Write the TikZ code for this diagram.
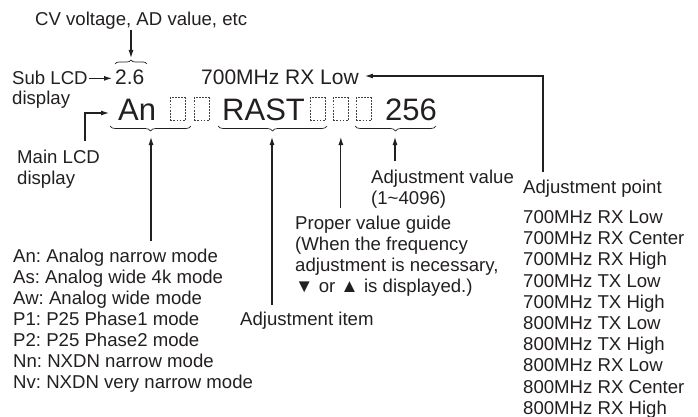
\documentclass[tikz,border=0pt]{standalone}
\usepackage{fontspec}
\setmainfont{Liberation Sans}
\usetikzlibrary{arrows.meta,positioning,decorations.pathreplacing,calc}
\definecolor{inkgray}{RGB}{35,31,32}
\frenchspacing
\tikzset{
  lbl/.style={inner sep=0pt, anchor=base west, text=inkgray,
              font=\fontsize{18.6}{21}\selectfont},
  sublcd/.style={lbl, font=\fontsize{21}{24}\selectfont},
  mainlcd/.style={lbl, font=\fontsize{31}{36}\selectfont},
  blank/.style={draw=inkgray!85, dash pattern=on 1.8pt off 1.3pt, line width=0.7pt,
                minimum width=15pt, minimum height=23pt, inner sep=0pt, anchor=south west},
  ptr/.style={-{Latex[length=8pt,width=5pt]}, line width=1.1pt, draw=inkgray},
  grp/.style={decorate, decoration={brace, amplitude=#1}, line width=0.7pt, draw=inkgray},
  grp/.default=5pt,
}

\begin{document}
\begin{tikzpicture}[x=1pt, y=-1pt]
    \useasboundingbox (0,0) rectangle (698,417);
    % Sub LCD line
    \node[lbl] (cvnote) at (35,26) {CV voltage, AD value, etc};
    \node[lbl] (sublbl) at (12,85) {Sub LCD};
    \node[lbl] (sublbl2) at (12,105) {display};
    \node[sublcd] (subval) at (115,85) {2.6};
    \node[sublcd] (subtxt) at (201,85) {700MHz RX Low};
    % Main LCD line
    \node[mainlcd] (mode) at (118,121) {An};
    \node[mainlcd] (item) at (222,121) {RAST};
    \node[mainlcd] (value) at (385,121) {256};
    \foreach \bx [count=\i] in {170,194,310,333,356}
      \node[blank] (blank\i) at (\bx,121) {};
    \node[lbl] (mainlbl) at (17,163) {Main LCD};
    \node[lbl] (mainlbl2) at (17,184) {display};

    % Braces and their tips
    \draw[grp=4pt] (115,64) -- (147,64);
    \coordinate (cvtip) at (131,58);
    \draw[grp] (191,126) -- (110,126);
    \draw[grp] (327,126) -- (218,126);
    \draw[grp] (436,126) -- (355,126);
    \coordinate (modetip) at (151,137);
    \coordinate (itemtip) at (272,137);
    \coordinate (valuetip) at (395,137);
    \coordinate (guidetip) at (blank4.south |- valuetip);

    % Notes below
    \node[lbl] (valuelbl) at (371,183) {Adjustment value};
    \node[lbl] (valuelbl2) at (371,204) {(1\textasciitilde4096)};
    \foreach \gd [count=\i] in {{Proper value guide},{(When the frequency},
        {adjustment is necessary,},{▼ or ▲ is displayed.)}}
      \node[lbl] (guide\i) at (295,{229.5+21*(\i-1)}) {\gd};
    \node[lbl] (itemlbl) at (240,325.5) {Adjustment item};
    \foreach \md [count=\i] in {An: Analog narrow mode, As: Analog wide 4k mode,
        Aw: Analog wide mode, P1: P25 Phase1 mode, P2: P25 Phase2 mode,
        Nn: NXDN narrow mode, Nv: NXDN very narrow mode}
      \node[lbl] (mode\i) at (13,{262.5+21*(\i-1)}) {\md};
    \node[lbl] (pointlbl) at (523,193.5) {Adjustment point};
    \foreach \pt [count=\i] in {700MHz RX Low, 700MHz RX Center, 700MHz RX High,
        700MHz TX Low, 700MHz TX High, 800MHz TX Low, 800MHz TX High,
        800MHz RX Low, 800MHz RX Center, 800MHz RX High}
      \node[lbl] (point\i) at (523,{223.5+21.2*(\i-1)}) {\pt};

    % Connectors
    \draw[ptr] (cvnote.south -| cvtip) -- (cvtip);
    \draw[ptr] ([xshift=1pt]sublbl.east) -- ([xshift=-3pt]sublbl.east -| subval.west);
    \coordinate (mainbend) at (85,113);
    \draw[ptr] ([yshift=8pt]mainlbl.north -| mainbend) -- (mainbend)
      -- ([xshift=-9pt]mainbend -| mode.west);
    \coordinate (ptcorner) at (543,76);
    \draw[ptr] ([yshift=8pt]pointlbl.north -| ptcorner) -- (ptcorner)
      -- ([xshift=6pt]ptcorner -| subtxt.east);
    \draw[ptr] ([yshift=8pt]mode1.north -| modetip) -- (modetip);
    \draw[ptr] ([yshift=7pt]itemlbl.north -| itemtip) -- (itemtip);
    \draw[ptr] ([yshift=8pt]guide1.north -| guidetip) -- (guidetip);
    \draw[ptr] ([yshift=8pt]valuelbl.north -| valuetip) -- (valuetip);
\end{tikzpicture}
\end{document}
